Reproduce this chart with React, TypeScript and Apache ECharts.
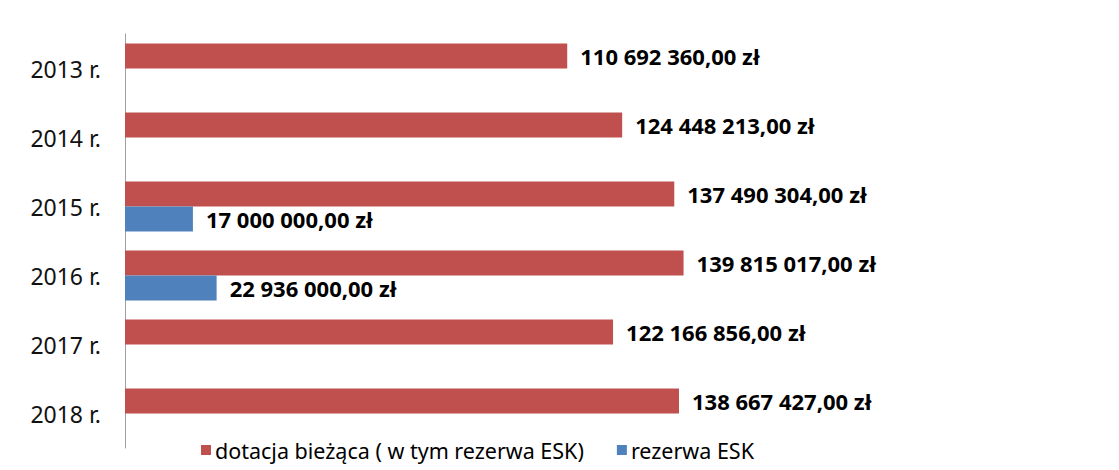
import React, { useEffect, useRef } from "react";
import * as echarts from "echarts";

const categories = ["2013 r.", "2014 r.", "2015 r.", "2016 r.", "2017 r.", "2018 r."];
const dotacja = [110692360, 124448213, 137490304, 139815017, 122166856, 138667427];
const rezerwa = [null, null, 17000000, 22936000, null, null];
const seriesNames = ["dotacja bieżąca ( w tym rezerwa ESK)", "rezerwa ESK"];

const fmt = (v: number) =>
  Math.round(v).toString().replace(/\B(?=(\d{3})+(?!\d))/g, " ") + ",00 zł";

export default function App() {
  const ref = useRef<HTMLDivElement>(null);
  useEffect(() => {
    if (!ref.current) return;
    const chart = echarts.init(ref.current, null, { renderer: "svg" });
    const font = "Noto Sans";
    const labelStyle = {
      show: true,
      position: "right" as const,
      distance: 13,
      color: "#000",
      fontFamily: font,
      fontWeight: "bold" as const,
      fontSize: 22,
      formatter: (p: any) => fmt(p.value),
    };
    chart.setOption({
      animation: false,
      backgroundColor: "#fff",
      grid: { left: 125, top: 34, height: 414, width: 799, containLabel: false },
      legend: {
        bottom: 4,
        left: 196,
        itemWidth: 10,
        itemHeight: 10,
        itemGap: 33,
        icon: "rect",
        textStyle: { fontFamily: font, fontSize: 21.5, color: "#000", padding: [0, 0, 0, -1] },
        data: seriesNames,
      },
      xAxis: {
        type: "value",
        min: 0,
        max: 200000000,
        show: false,
        splitLine: { show: false },
      },
      yAxis: {
        type: "category",
        data: categories,
        inverse: true,
        axisLine: { show: true, lineStyle: { color: "#a0a0a0", width: 1 } },
        axisTick: { show: false },
        axisLabel: { fontFamily: font, fontSize: 23, color: "#111", margin: 24 },
      },
      series: [
        {
          name: seriesNames[0],
          type: "bar",
          data: dotacja,
          barWidth: 25,
          barGap: "0%",
          itemStyle: { color: "#C0504D" },
          label: labelStyle,
        },
        {
          name: seriesNames[1],
          type: "bar",
          data: rezerwa,
          barWidth: 25,
          barGap: "0%",
          itemStyle: { color: "#4F81BD" },
          label: labelStyle,
        },
      ],
    });
    return () => chart.dispose();
  }, []);
  return (
    <div
      ref={ref}
      style={{ position: "absolute", left: 0, top: 0, width: 1119, height: 470 }}
    />
  );
}
